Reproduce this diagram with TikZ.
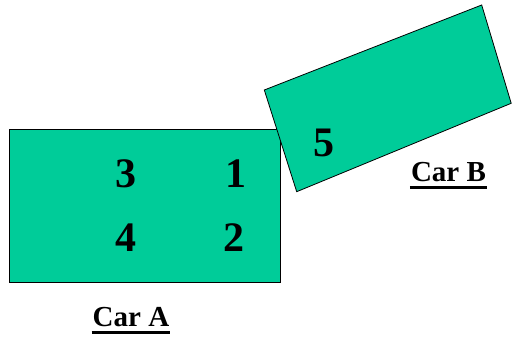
\documentclass[tikz,border=0pt]{standalone}
\usepackage{fontspec}
\setmainfont{Liberation Serif}
\usepackage{tikz}
\usetikzlibrary{calc}
\definecolor{CarGreen}{RGB}{0,204,153}

\begin{document}
\begin{tikzpicture}[x=1pt, y=-1pt,
    car/.style={fill=CarGreen, draw=black, line width=0.8pt},
    seat/.style={anchor=base, inner sep=0pt, font=\fontsize{42}{42}\selectfont\bfseries},
    carname/.style={anchor=base, inner sep=0pt, font=\fontsize{29}{29}\selectfont\bfseries}]
    \useasboundingbox (0,0) rectangle (512,339);

    %Car A
    \filldraw[car] (9.5,129.5) rectangle (280,282);
    %Car B (on top of Car A)
    \filldraw[car] (264.3,90) -- (481.7,5) -- (511.2,103.3) -- (296.7,191.7) -- cycle;

    %Seats
    \node[seat] (s3) at (126,188) {3};
    \node[seat] (s1) at (236,188) {1};
    \node[seat] (s4) at (126,252) {4};
    \node[seat] (s2) at (234,252) {2};
    \node[seat] (s5) at (324,156.5) {5};

    %Labels
    \node[carname] (carA) at (131,326.5) {Car A};
    \node[carname] (carB) at (448.5,181.5) {Car B};
    \draw[line width=3pt] ($(carA.base west)+(-1,6.5)$) -- ($(carA.base east)+(1,6.5)$);
    \draw[line width=3pt] ($(carB.base west)+(-1,6.5)$) -- ($(carB.base east)+(1,6.5)$);

\end{tikzpicture}
\end{document}
